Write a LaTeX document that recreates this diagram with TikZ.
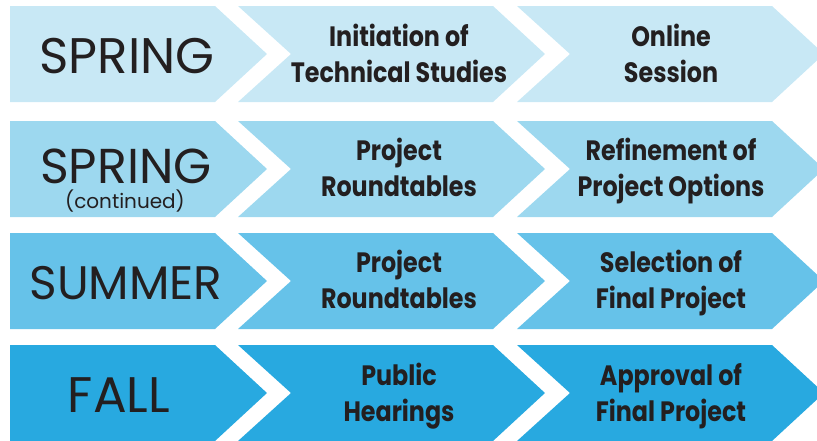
\documentclass[tikz,border=0pt]{standalone}
\usepackage{fontspec}
\setmainfont{Poppins}
\newfontfamily\seasonfont{Poppins}
\newfontfamily\stagefont[FakeStretch=0.85]{Poppins}
\definecolor{rowA}{HTML}{C8E8F5}
\definecolor{rowB}{HTML}{9DD8EF}
\definecolor{rowC}{HTML}{66C2E9}
\definecolor{rowD}{HTML}{28A9E0}
\definecolor{ink}{HTML}{231F20}
\tikzset{
  season/.style={text=ink, inner sep=0pt, anchor=base, font=\seasonfont\fontsize{50}{50}\selectfont},
  subseason/.style={text=ink, inner sep=0pt, anchor=base, font=\seasonfont\fontsize{20}{20}\selectfont},
  stagetext/.style={text=ink, inner sep=0pt, anchor=base, align=center, font=\stagefont\bfseries\fontsize{28}{36}\selectfont},
}
\begin{document}
\begin{tikzpicture}[x=1pt,y=-1pt]
\useasboundingbox (0,0) rectangle (817,440);
\foreach \t/\col in {6/rowA,121/rowB,233/rowC,345/rowD}{
  \pgfmathsetmacro\b{\t+96}
  \pgfmathsetmacro\m{\t+48}
  \fill[\col] (10,\t) -- (215,\t) -- (267,\m) -- (215,\b) -- (10,\b) -- cycle;
  \fill[\col] (238,\t) -- (493,\t) -- (545,\m) -- (493,\b) -- (238,\b) -- (291,\m) -- cycle;
  \fill[\col] (517,\t) -- (772,\t) -- (824,\m) -- (772,\b) -- (517,\b) -- (570,\m) -- cycle;
}
\node[season] (s1) at (127,73) {SPRING};
\node[season, text depth=0pt, font=\seasonfont\fontsize{49}{49}\selectfont] (s2) at (126,183) {SPRING};
\node[subseason] (s2c) at (125,208) {(continued)};
\node[season, font=\seasonfont\fontsize{47}{47}\selectfont] (s3) at (126,299) {SUMMER};
\node[season] (s4) at (119,412) {FALL};

\node[stagetext] (a1) at (399,82) {Initiation of\\Technical Studies};
\node[stagetext] (b1) at (671,82) {Online\\Session};
\node[stagetext] (a2) at (399,196) {Project\\Roundtables};
\node[stagetext] (b2) at (671,196) {Refinement of\\Project Options};
\node[stagetext] (a3) at (399,308) {Project\\Roundtables};
\node[stagetext] (b3) at (671,308) {Selection of\\Final Project};
\node[stagetext] (a4) at (399,421) {Public\\Hearings};
\node[stagetext] (b4) at (671,421) {Approval of\\Final Project};
\end{tikzpicture}
\end{document}
